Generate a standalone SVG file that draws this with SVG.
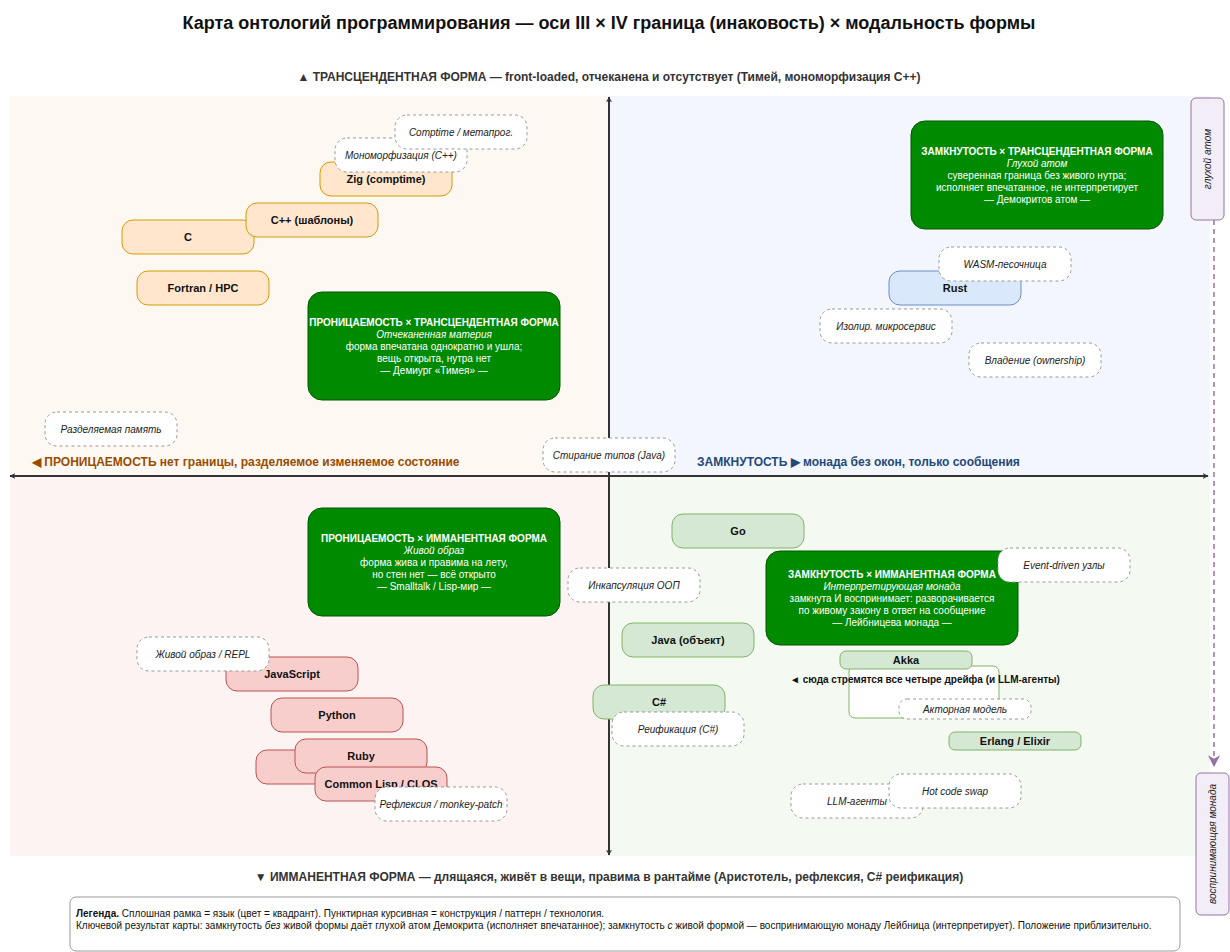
<svg xmlns="http://www.w3.org/2000/svg" width="1230" height="952" viewBox="0 0 1230 952">
<defs>
<style>
text{font-family:"Liberation Sans",Arial,sans-serif}
.title{font-size:18px;font-weight:bold;fill:#111}
.axl{font-size:12px;font-weight:bold;fill:#333}
.lang{font-size:11px;font-weight:bold;fill:#111}
.dlab{font-size:10px;font-style:italic;fill:#222}
.gtxt{font-size:10px;fill:#fff}
.gb{font-weight:bold}
.gi{font-style:italic}
.or{fill:#ffe6cc;stroke:#d79b00;stroke-width:1}
.bl{fill:#dae8fc;stroke:#6c8ebf;stroke-width:1}
.rd{fill:#f8cecc;stroke:#b85450;stroke-width:1}
.gr{fill:#d5e8d4;stroke:#82b366;stroke-width:1}
.dash{fill:#fff;stroke:#999;stroke-width:1;stroke-dasharray:3 3}
.big{fill:#008a00;stroke:#005700;stroke-width:1}
.side{fill:#f3edf7;stroke:#9673a6;stroke-width:1}
.stxt{font-size:10px;font-style:italic;fill:#222}
.axis{stroke:#333;stroke-width:2;fill:none}
</style>
<marker id="ah" viewBox="0 0 10 10" refX="9" refY="5" markerWidth="6" markerHeight="6" orient="auto-start-reverse" markerUnits="userSpaceOnUse">
<path d="M0,0 L10,5 L0,10 L3,5 Z" fill="#333"/>
</marker>
<marker id="ahp" viewBox="0 0 10 10" refX="9" refY="5" markerWidth="12" markerHeight="12" orient="auto" markerUnits="userSpaceOnUse">
<path d="M0,0 L10,5 L0,10 L3,5 Z" fill="#9673a6"/>
</marker>
</defs>
<rect width="1230" height="952" fill="#fff"/>
<g id="quadrants">
<rect x="10" y="96" width="599" height="380" fill="#fdf8f2"/>
<rect x="609" y="96" width="601" height="380" fill="#f3f6fd"/>
<rect x="10" y="476" width="599" height="380" fill="#fdf3f3"/>
<rect x="609" y="476" width="601" height="380" fill="#f4f9f1"/>
</g>
<text class="title" x="609" y="29" text-anchor="middle">Карта онтологий программирования — оси III × IV граница (инаковость) × модальность формы</text>
<g id="connectors">
<line class="axis" x1="609" y1="855" x2="609" y2="97" marker-start="url(#ah)" marker-end="url(#ah)"/>
<line class="axis" x1="10" y1="476" x2="1208" y2="476" marker-start="url(#ah)" marker-end="url(#ah)"/>
<line x1="1214" y1="220" x2="1214" y2="766" stroke="#9673a6" stroke-width="1.5" stroke-dasharray="5 4" marker-end="url(#ahp)"/>
</g>
<g id="axis-labels">
<text class="axl" x="609" y="81" text-anchor="middle">▲ ТРАНСЦЕНДЕНТНАЯ ФОРМА — front-loaded, отчеканена и отсутствует (Тимей, мономорфизация C++)</text>
<text class="axl" x="609" y="881" text-anchor="middle">▼ ИММАНЕНТНАЯ ФОРМА — длящаяся, живёт в вещи, правима в рантайме (Аристотель, рефлексия, C# реификация)</text>
<text class="axl" x="32" y="466" style="fill:#994c00">◀ ПРОНИЦАЕМОСТЬ нет границы, разделяемое изменяемое состояние</text>
<text class="axl" x="697" y="466" style="fill:#23497a">ЗАМКНУТОСТЬ ▶ монада без окон, только сообщения</text>
</g>

<!-- top-left -->
<g id="n-c"><rect class="or" x="122" y="220" width="132" height="34" rx="11"/><text class="lang" x="188" y="241" text-anchor="middle">C</text></g>
<g id="n-cpp"><rect class="or" x="246" y="203" width="132" height="34" rx="11"/><text class="lang" x="312" y="224" text-anchor="middle">C++ (шаблоны)</text></g>
<g id="n-fortran"><rect class="or" x="137" y="271" width="132" height="34" rx="11"/><text class="lang" x="203" y="292" text-anchor="middle">Fortran / HPC</text></g>
<g id="n-zig"><rect class="or" x="320" y="162" width="132" height="34" rx="11"/><text class="lang" x="386" y="183" text-anchor="middle">Zig (comptime)</text></g>
<g id="n-mono"><rect class="dash" x="335" y="138" width="132" height="34" rx="12"/><text class="dlab" x="401" y="159" text-anchor="middle">Мономорфизация (C++)</text></g>
<g id="n-comptime"><rect class="dash" x="395" y="115" width="132" height="34" rx="12"/><text class="dlab" x="461" y="136" text-anchor="middle">Comptime / метапрог.</text></g>
<g id="q-tl"><rect class="big" x="308" y="292" width="252" height="108" rx="14"/>
<text class="gtxt" text-anchor="middle"><tspan class="gb" x="434" y="326">ПРОНИЦАЕМОСТЬ × ТРАНСЦЕНДЕНТНАЯ ФОРМА</tspan><tspan class="gi" x="434" y="338">Отчеканенная материя</tspan><tspan x="434" y="350">форма впечатана однократно и ушла;</tspan><tspan x="434" y="362">вещь открыта, нутра нет</tspan><tspan x="434" y="374">— Демиург «Тимея» —</tspan></text></g>
<g id="n-shared"><rect class="dash" x="45" y="412" width="132" height="34" rx="12"/><text class="dlab" x="111" y="433" text-anchor="middle">Разделяемая память</text></g>
<g id="n-erasure"><rect class="dash" x="543" y="438" width="132" height="34" rx="12"/><text class="dlab" x="609" y="459" text-anchor="middle">Стирание типов (Java)</text></g>

<!-- top-right -->
<g id="q-tr"><rect class="big" x="911" y="121" width="252" height="108" rx="14"/>
<text class="gtxt" text-anchor="middle"><tspan class="gb" x="1037" y="155">ЗАМКНУТОСТЬ × ТРАНСЦЕНДЕНТНАЯ ФОРМА</tspan><tspan class="gi" x="1037" y="167">Глухой атом</tspan><tspan x="1037" y="179">суверенная граница без живого нутра;</tspan><tspan x="1037" y="191">исполняет впечатанное, не интерпретирует</tspan><tspan x="1037" y="203">— Демокритов атом —</tspan></text></g>
<g id="n-rust"><rect class="bl" x="889" y="271" width="132" height="34" rx="11"/><text class="lang" x="955" y="292" text-anchor="middle">Rust</text></g>
<g id="n-wasm"><rect class="dash" x="939" y="247" width="132" height="34" rx="12"/><text class="dlab" x="1005" y="268" text-anchor="middle">WASM-песочница</text></g>
<g id="n-micro"><rect class="dash" x="820" y="309" width="132" height="34" rx="12"/><text class="dlab" x="886" y="330" text-anchor="middle">Изолир. микросервис</text></g>
<g id="n-own"><rect class="dash" x="969" y="343" width="132" height="34" rx="12"/><text class="dlab" x="1035" y="364" text-anchor="middle">Владение (ownership)</text></g>

<!-- bottom-left -->
<g id="q-bl"><rect class="big" x="308" y="508" width="252" height="108" rx="14"/>
<text class="gtxt" text-anchor="middle"><tspan class="gb" x="434" y="542">ПРОНИЦАЕМОСТЬ × ИММАНЕНТНАЯ ФОРМА</tspan><tspan class="gi" x="434" y="554">Живой образ</tspan><tspan x="434" y="566">форма жива и правима на лету,</tspan><tspan x="434" y="578">но стен нет — всё открыто</tspan><tspan x="434" y="590">— Smalltalk / Lisp-мир —</tspan></text></g>
<g id="n-js"><rect class="rd" x="226" y="657" width="132" height="34" rx="11"/><text class="lang" x="292" y="678" text-anchor="middle">JavaScript</text></g>
<g id="n-repl"><rect class="dash" x="137" y="637" width="132" height="34" rx="12"/><text class="dlab" x="203" y="658" text-anchor="middle">Живой образ / REPL</text></g>
<g id="n-python"><rect class="rd" x="271" y="698" width="132" height="34" rx="11"/><text class="lang" x="337" y="719" text-anchor="middle">Python</text></g>
<g id="n-hidden"><rect class="rd" x="256" y="750" width="132" height="34" rx="11"/></g>
<g id="n-ruby"><rect class="rd" x="295" y="739" width="132" height="34" rx="11"/><text class="lang" x="361" y="760" text-anchor="middle">Ruby</text></g>
<g id="n-lisp"><rect class="rd" x="315" y="767" width="132" height="34" rx="11"/><text class="lang" x="381" y="788" text-anchor="middle">Common Lisp / CLOS</text></g>
<g id="n-refl"><rect class="dash" x="375" y="787" width="132" height="34" rx="12"/><text class="dlab" x="441" y="808" text-anchor="middle">Рефлексия / monkey-patch</text></g>

<!-- bottom-right -->
<g id="n-go"><rect class="gr" x="672" y="514" width="132" height="34" rx="11"/><text class="lang" x="738" y="535" text-anchor="middle">Go</text></g>
<g id="n-encap"><rect class="dash" x="568" y="568" width="132" height="34" rx="12"/><text class="dlab" x="634" y="589" text-anchor="middle">Инкапсуляция ООП</text></g>
<g id="n-java"><rect class="gr" x="622" y="623" width="132" height="34" rx="11"/><text class="lang" x="688" y="644" text-anchor="middle">Java (объект)</text></g>
<g id="n-cs"><rect class="gr" x="593" y="685" width="132" height="34" rx="11"/><text class="lang" x="659" y="706" text-anchor="middle">C#</text></g>
<g id="n-reif"><rect class="dash" x="612" y="712" width="132" height="34" rx="12"/><text class="dlab" x="678" y="733" text-anchor="middle">Реификация (C#)</text></g>
<g id="q-br"><rect class="big" x="766" y="551" width="252" height="94" rx="14"/>
<text class="gtxt" text-anchor="middle"><tspan class="gb" x="892" y="578">ЗАМКНУТОСТЬ × ИММАНЕНТНАЯ ФОРМА</tspan><tspan class="gi" x="892" y="590">Интерпретирующая монада</tspan><tspan x="892" y="602">замкнута И воспринимает: разворачивается</tspan><tspan x="892" y="614">по живому закону в ответ на сообщение</tspan><tspan x="892" y="626">— Лейбницева монада —</tspan></text></g>
<g id="n-event"><rect class="dash" x="998" y="548" width="132" height="34" rx="12"/><text class="dlab" x="1064" y="569" text-anchor="middle">Event-driven узлы</text></g>
<g id="n-target"><rect x="849" y="666" width="150" height="52" rx="6" fill="#fff" stroke="#82b366" stroke-width="1"/></g>
<g id="n-akka"><rect class="gr" x="840" y="651" width="132" height="18" rx="6"/><text class="lang" x="906" y="664" text-anchor="middle">Akka</text></g>
<text x="925" y="683" text-anchor="middle" style="font-size:10px;font-weight:bold;fill:#111">◄ сюда стремятся все четыре дрейфа (и LLM-агенты)</text>
<g id="n-actor"><rect class="dash" x="899" y="699" width="132" height="20" rx="8"/><text class="dlab" x="965" y="713" text-anchor="middle">Акторная модель</text></g>
<g id="n-erlang"><rect class="gr" x="949" y="732" width="132" height="18" rx="6"/><text class="lang" x="1015" y="745" text-anchor="middle">Erlang / Elixir</text></g>
<g id="n-llm"><rect class="dash" x="791" y="784" width="132" height="34" rx="12"/><text class="dlab" x="857" y="805" text-anchor="middle">LLM-агенты</text></g>
<g id="n-hot"><rect class="dash" x="889" y="774" width="132" height="34" rx="12"/><text class="dlab" x="955" y="795" text-anchor="middle">Hot code swap</text></g>

<!-- side labels -->
<g id="s-atom"><rect class="side" x="1191" y="98" width="33" height="122" rx="5"/><text class="stxt" x="1207.5" y="159" text-anchor="middle" transform="rotate(-90 1207.5 159)" dy="3.5">глухой атом</text></g>
<g id="s-monad"><rect class="side" x="1196" y="773" width="33" height="142" rx="5"/><text class="stxt" x="1212.5" y="844" text-anchor="middle" transform="rotate(-90 1212.5 844)" dy="3.5">воспринимающая монада</text></g>

<g id="legend"><rect x="70" y="897" width="1110" height="54" rx="6" fill="#fff" stroke="#999" stroke-width="1"/>
<text x="76" y="917" style="font-size:10px;fill:#111"><tspan font-weight="bold">Легенда.</tspan> Сплошная рамка = язык (цвет = квадрант). Пунктирная курсивная = конструкция / паттерн / технология.</text>
<text x="76" y="929" style="font-size:10px;fill:#111">Ключевой результат карты: замкнутость <tspan font-style="italic">без</tspan> живой формы даёт глухой атом Демокрита (исполняет впечатанное); замкнутость <tspan font-style="italic">с</tspan> живой формой — воспринимающую монаду Лейбница (интерпретирует). Положение приблизительно.</text>
</g>
</svg>
